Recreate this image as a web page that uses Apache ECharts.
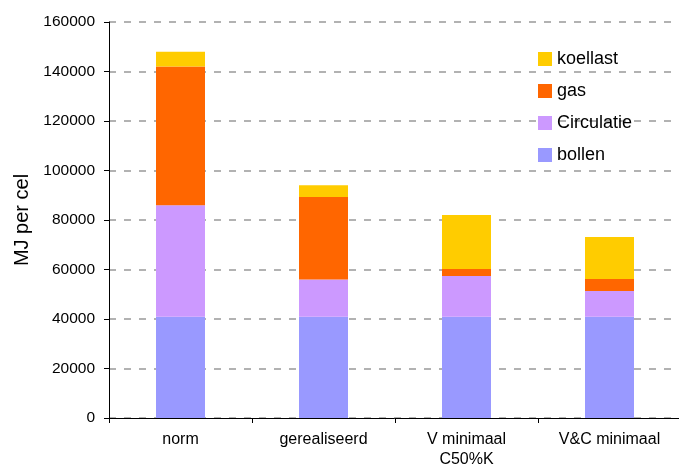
<!DOCTYPE html>
<html>
<head>
<meta charset="utf-8">
<script src="https://cdn.jsdelivr.net/npm/echarts@6/dist/echarts.min.js"></script>
<style>
  html, body { margin: 0; padding: 0; background: #fff; }
  #chart { width: 679px; height: 468px; }
</style>
</head>
<body>
<div id="chart"></div>
<script>
// Energy use per cell (MJ) for four scenarios, stacked by component
const categories = ['norm', 'gerealiseerd', 'V minimaal\nC50%K', 'V&C minimaal'];
const bollen     = [40900, 40900, 40900, 40900];
const circulatie = [45100, 15100, 16500, 10400];
const gas        = [56000, 33300, 2800, 4900];
const koellast   = [6000, 4700, 21800, 16900];
const yTicks = { min: 0, max: 160000, interval: 20000 };

const font = 'Liberation Sans, Arial, sans-serif';
const chart = echarts.init(document.getElementById('chart'), null, { renderer: 'canvas' });

function bar(name, data, color) {
  return {
    name, type: 'bar', stack: 'total', data,
    barWidth: 49,
    itemStyle: { color },
    emphasis: { disabled: true }
  };
}

chart.setOption({
  animation: false,
  backgroundColor: '#ffffff',
  grid: { left: 109, top: 22, bottom: 50, right: -2, containLabel: false, outerBoundsMode: 'none' },
  legend: {
    orient: 'vertical',
    left: 533, top: 45,
    itemWidth: 14, itemHeight: 14, itemGap: 14,
    icon: 'rect',
    textStyle: { fontFamily: font, fontSize: 18, color: '#000' },
    data: ['koellast', 'gas', 'Circulatie', 'bollen']
  },
  xAxis: {
    type: 'category', data: categories,
    axisLine: { show: true, lineStyle: { color: '#000', width: 1 } },
    axisTick: { show: true, length: 5, lineStyle: { color: '#000' } },
    axisLabel: { fontFamily: font, fontSize: 16, color: '#000', margin: 12, lineHeight: 20, interval: 0 },
    splitLine: { show: false }
  },
  yAxis: {
    type: 'value',
    min: yTicks.min, max: yTicks.max, interval: yTicks.interval,
    name: 'MJ per cel',
    nameLocation: 'middle',
    nameGap: 76,
    nameTextStyle: { fontFamily: font, fontSize: 20, color: '#000' },
    axisLine: { show: true, lineStyle: { color: '#000', width: 1 } },
    axisTick: { show: true, length: 5, inside: false, lineStyle: { color: '#000' } },
    axisLabel: { fontFamily: font, fontSize: 15.5, color: '#000', margin: 14, formatter: v => String(v) },
    splitLine: { show: true, lineStyle: { color: '#999', type: [7, 8], width: 1.5 } }
  },
  series: [
    bar('bollen', bollen, '#9999FF'),
    bar('Circulatie', circulatie, '#CC99FF'),
    bar('gas', gas, '#FF6600'),
    bar('koellast', koellast, '#FFCC00')
  ]
});
</script>
</body>
</html>
